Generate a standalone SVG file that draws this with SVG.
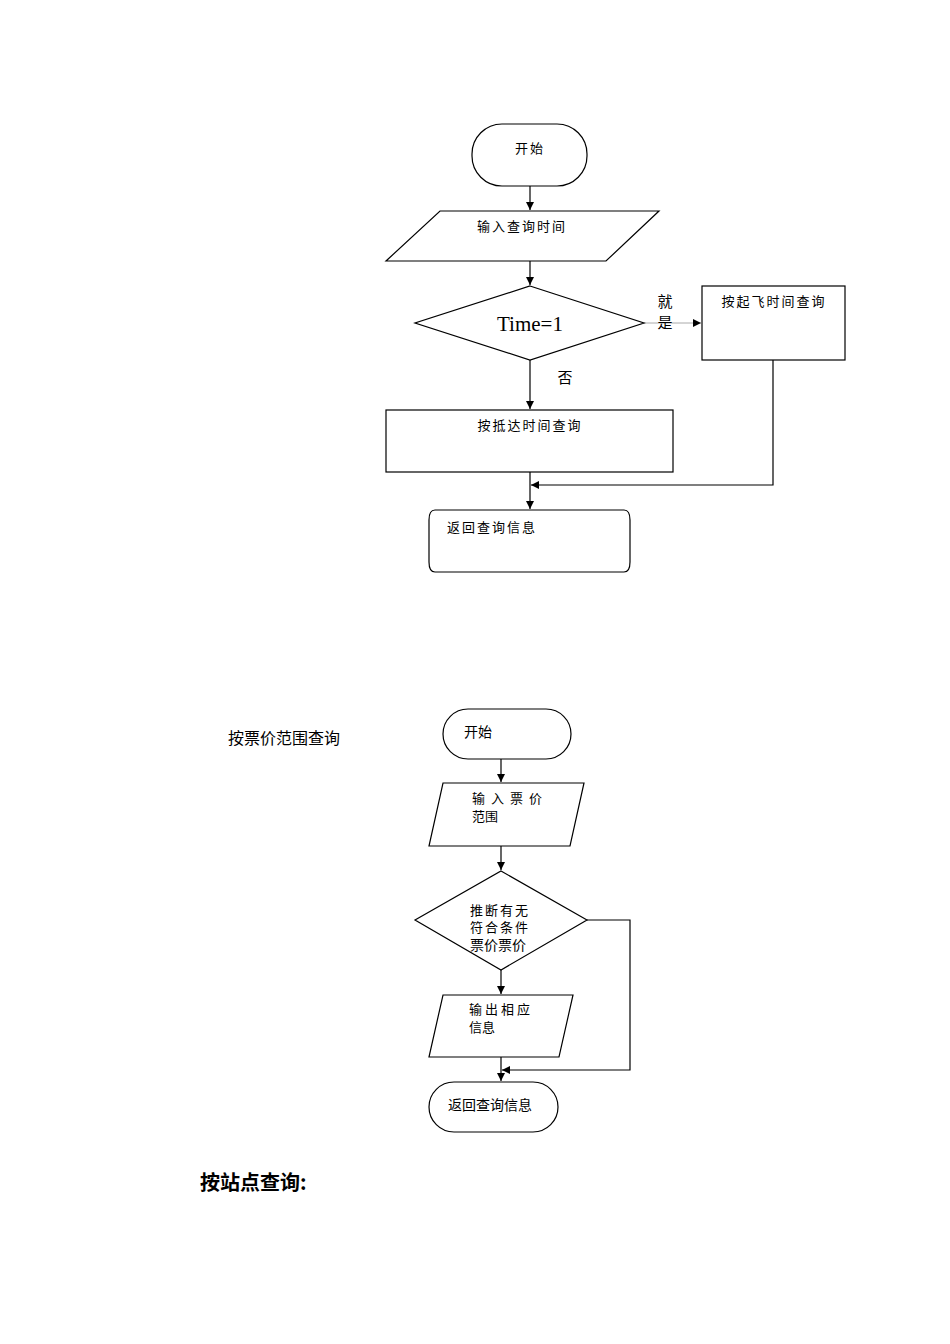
<svg xmlns="http://www.w3.org/2000/svg" width="950" height="1344" viewBox="0 0 950 1344">
<style>
.s{fill:#fff;stroke:#000;stroke-width:1.2}
.c{fill:none;stroke:#000;stroke-width:1.2}
text{font-family:"Noto Sans CJK SC","Liberation Serif",serif;fill:#000}
.t{font-family:"Liberation Serif","Noto Sans CJK SC",serif}
</style>
<defs><marker id="a" viewBox="0 0 10 10" refX="10" refY="5" markerWidth="8" markerHeight="8" orient="auto" markerUnits="userSpaceOnUse"><path d="M0,0L10,5L0,10z" fill="#000"/></marker></defs>
<rect width="950" height="1344" fill="#fff"/>
<g id="connectors">
<path class="c" d="M530,186V210" marker-end="url(#a)"/>
<path class="c" d="M530,261V285" marker-end="url(#a)"/>
<path d="M644,323H701" stroke="#aaa" stroke-width="1" marker-end="url(#a)"/>
<path class="c" d="M530,360V409" marker-end="url(#a)"/>
<path class="c" d="M530,472V509" marker-end="url(#a)"/>
<path class="c" d="M773,360V485H531" marker-end="url(#a)"/>
<path class="c" d="M501,759V782" marker-end="url(#a)"/>
<path class="c" d="M501,846V870" marker-end="url(#a)"/>
<path class="c" d="M501,970V994" marker-end="url(#a)"/>
<path class="c" d="M501,1057V1081" marker-end="url(#a)"/>
<path class="c" d="M587,920H630V1070H502" marker-end="url(#a)"/>
</g>
<g id="start1"><rect class="s" x="472" y="124" width="115" height="62" rx="30" ry="30"/><text x="530" y="153" text-anchor="middle" style="font-size:13px" letter-spacing="2">开始</text></g>
<g id="input1"><polygon class="s" points="440,211 659,211 606,261 386,261"/><text x="522" y="231" text-anchor="middle" style="font-size:13px" letter-spacing="2">输入查询时间</text></g>
<g id="dec1"><polygon class="s" points="530,286 644,323 530,360 415,323"/><text class="t" x="530" y="331" text-anchor="middle" style="font-size:21px">Time=1</text></g>
<text x="665" y="307" style="font-size:15px" text-anchor="middle">就</text>
<text x="665" y="328" style="font-size:15px" text-anchor="middle">是</text>
<text x="565" y="383" style="font-size:15px" text-anchor="middle">否</text>
<g id="dep"><rect class="s" x="702" y="286" width="143" height="74"/><text x="774" y="306" text-anchor="middle" style="font-size:13px" letter-spacing="2">按起飞时间查询</text></g>
<g id="arr"><rect class="s" x="386" y="410" width="287" height="62"/><text x="530" y="430" text-anchor="middle" style="font-size:13px" letter-spacing="2">按抵达时间查询</text></g>
<g id="ret1"><path class="s" d="M435,510H624Q630,510 630,520V562Q630,572 624,572H435Q429,572 429,562V520Q429,510 435,510Z"/><text x="492" y="532" text-anchor="middle" style="font-size:13px" letter-spacing="2">返回查询信息</text></g>
<text x="284" y="744" style="font-size:16px" text-anchor="middle">按票价范围查询</text>
<g id="start2"><rect class="s" x="443" y="709" width="128" height="50" rx="25" ry="25"/><text x="478" y="737" text-anchor="middle" style="font-size:14px">开始</text></g>
<g id="input2"><polygon class="s" points="443,783 584,783 570,846 429,846"/><text x="472" y="803" style="font-size:13px" letter-spacing="6">输入票价</text><text x="472" y="821" style="font-size:13px">范围</text></g>
<g id="dec2"><polygon class="s" points="501,871 587,920 501,970 415,920"/><text x="470" y="915" style="font-size:13px" letter-spacing="2">推断有无</text><text x="470" y="932" style="font-size:13px" letter-spacing="2">符合条件</text><text x="470" y="950" style="font-size:14px">票价票价</text></g>
<g id="out2"><polygon class="s" points="443,995 573,995 559,1057 429,1057"/><text x="469" y="1014" style="font-size:13px" letter-spacing="3">输出相应</text><text x="469" y="1032" style="font-size:13px">信息</text></g>
<g id="ret2"><rect class="s" x="429" y="1082" width="129" height="50" rx="25" ry="25"/><text x="490" y="1110" text-anchor="middle" style="font-size:14px">返回查询信息</text></g>
<text x="200" y="1190" style="font-size:20px;font-weight:bold">按站点查询:</text>
</svg>
